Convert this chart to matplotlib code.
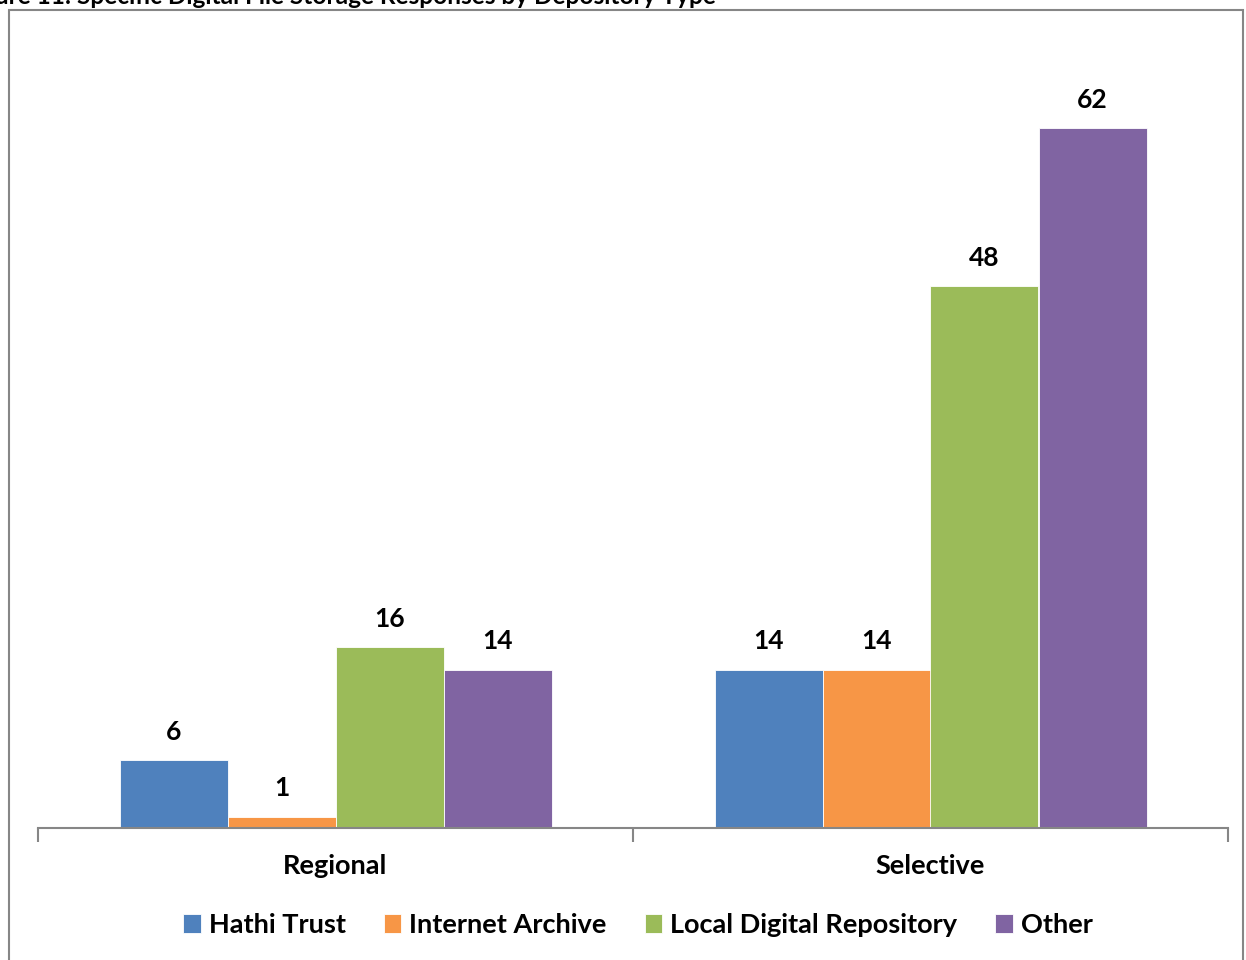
import matplotlib
matplotlib.use("Agg")
import matplotlib.pyplot as plt
import numpy as np
from matplotlib.patches import Rectangle

categories = ["Regional", "Selective"]
series_names = ["Hathi Trust", "Internet Archive", "Local Digital Repository", "Other"]
hathi = [6, 14]
internet = [1, 14]
local = [16, 48]
other = [14, 62]
colors = ["#4F81BD", "#F79646", "#9BBB59", "#8064A2"]

plt.rcParams['font.family'] = ['Lato', 'DejaVu Sans']

W, H = 1246, 960
fig = plt.figure(figsize=(W/100, H/100), dpi=100)

# outer chart border
fig.patches.append(Rectangle((8.5/W, -0.1), (1243-8.5)/W, 1 - 9.5/H + 0.1,
                             transform=fig.transFigure, fill=False,
                             edgecolor="#868686", linewidth=1.5))
# clipped title (only its lower part is visible, as in the reference)
fig.text(716/W, 1 + 4/H, "Figure 11: Specific Digital File Storage Responses by Depository Type",
         ha="right", va="center", fontsize=17.6, fontweight="bold", color="black")

ax_l, ax_r = 38, 1228
ax_b, ax_t = 828, 38
ax = fig.add_axes([ax_l/W, 1 - ax_b/H, (ax_r-ax_l)/W, (ax_b-ax_t)/H])

data = [hathi, internet, local, other]
x = np.arange(len(categories))
bw = 108/595
for i, (vals, name, c) in enumerate(zip(data, series_names, colors)):
    pos = x + (i - 1.5) * bw
    ax.bar(pos, vals, width=bw, color=c, label=name, edgecolor="white", linewidth=0.6, zorder=2)
    for p, v in zip(pos, vals):
        ax.annotate(str(v), (p, v), xytext=(0, 12), textcoords="offset points",
                    ha="center", va="bottom", fontsize=19, fontweight="bold")

ax.set_xlim(-0.5, 1.5)
ax.set_ylim(0, 70)
ax.set_yticks([])
for s in ["left", "right", "top"]:
    ax.spines[s].set_visible(False)
ax.spines["bottom"].set_color("#868686")
ax.spines["bottom"].set_linewidth(1.5)
ax.set_xticks([-0.5, 0.5, 1.5], minor=False)
ax.set_xticklabels(["", "", ""])
ax.tick_params(axis="x", length=10, width=1.5, color="#868686")
ax.set_xticks(x, minor=True)
ax.set_xticklabels(categories, minor=True, fontsize=19.5, fontweight="bold")
ax.tick_params(axis="x", which="minor", length=0, pad=19)

fig.legend(loc="center", bbox_to_anchor=(638/W, 1 - 925/H), ncol=4, frameon=False,
           prop={"size": 19.5, "weight": "bold"}, handlelength=0.65, handleheight=0.65,
           handletextpad=0.3, columnspacing=1.4)

fig.savefig("out.png", dpi=100)
